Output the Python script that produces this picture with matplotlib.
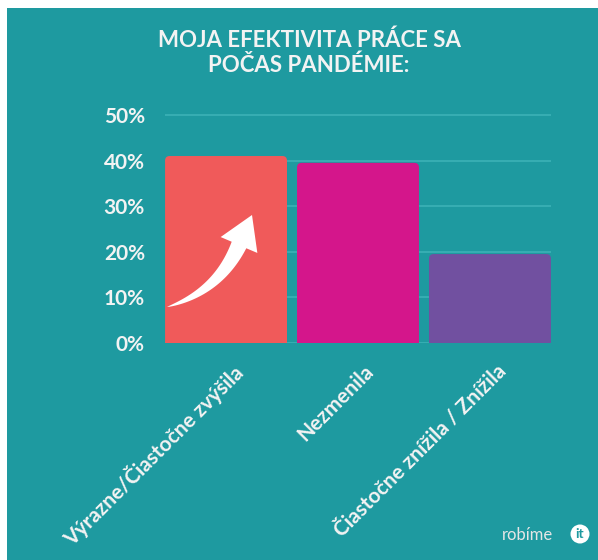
import numpy as np
import matplotlib
matplotlib.use("Agg")
import matplotlib.pyplot as plt
from matplotlib.patches import Rectangle, FancyBboxPatch, Polygon, Ellipse
from matplotlib.transforms import ScaledTranslation

# data
categories = ['Výrazne/Čiastočne zvýšila', 'Nezmenila', 'Čiastočne znížila / Znížila']
values = [41.0, 39.5, 19.5]
bar_colors = ['#F05A5A', '#D4168B', '#7150A0']
yticks = [0, 10, 20, 30, 40, 50]
ytick_labels = ['%d%%' % v for v in yticks]

teal = '#1E9AA0'
grid_col = '#3CB1B6'
txt_col = '#F3F3F3'
plt.rcParams['font.family'] = ['Lato', 'DejaVu Sans']

fig = plt.figure(figsize=(5.98, 5.60), dpi=100)
fig.patch.set_facecolor('white')
fig.patches.append(Rectangle((7/598, 0), 1 - 7/598, 552/560, transform=fig.transFigure,
                             facecolor=teal, edgecolor='none', zorder=-10))

ax = fig.add_axes([165/598, (560-343)/560, 386/598, (343-110.4)/560])
ax.set_facecolor('none')

x = np.arange(len(categories))
bars = ax.bar(x, values, width=0.924, color=bar_colors, zorder=3)
# swap plain bars for slightly rounded ones
for b, c in zip(bars, bar_colors):
    b.set_visible(False)
    rb = FancyBboxPatch((b.get_x(), -3), b.get_width(), b.get_height() + 3,
                        boxstyle='round,pad=0,rounding_size=0.035',
                        mutation_aspect=29, facecolor=c, edgecolor='none', zorder=3)
    ax.add_patch(rb)

ax.set_xlim(-0.4625, 2.4625)
ax.set_ylim(0, 51)
ax.set_yticks(yticks)
ax.set_yticklabels(ytick_labels)
ax.yaxis.grid(True, color=grid_col, lw=1.2)
ax.set_axisbelow(True)
for s in ax.spines.values():
    s.set_visible(False)
ax.tick_params(axis='y', length=0, pad=14.4, labelsize=15, labelcolor=txt_col)
for lab in ax.get_yticklabels():
    lab.set_fontweight('bold')

ax.set_xticks(x)
ax.set_xticklabels(categories, rotation=45, ha='right', va='top',
                   rotation_mode='anchor', fontsize=15, fontweight='bold', color=txt_col)
ax.tick_params(axis='x', length=0, pad=13)
off = ScaledTranslation(6/100, 0, fig.dpi_scale_trans)
for lab in ax.get_xticklabels():
    lab.set_transform(lab.get_transform() + off)

# white curved arrow on the first bar (pixel layout, top-left origin)
p0 = np.array([167.0, 307.0])
p1 = np.array([218.0, 292.0])
p2 = np.array([239.0, 245.0])
tip = np.array([252.0, 215.0])
u = np.linspace(0, 1, 40)[:, None]
cen = (1-u)**2*p0 + 2*(1-u)*u*p1 + u**2*p2
der = 2*(1-u)*(p1-p0) + 2*u*(p2-p1)
der = der / np.linalg.norm(der, axis=1)[:, None]
nrm = np.column_stack([der[:, 1], -der[:, 0]])
w = 8.0 * u[:, 0]**0.75
left = cen + nrm*w[:, None]
right = cen - nrm*w[:, None]
d_end = (tip - p2) / np.linalg.norm(tip - p2)
n_end = np.array([d_end[1], -d_end[0]])
head = [p2 + n_end*20, tip, p2 - n_end*20]
pts = np.vstack([left, head, right[::-1]])
pts_fig = np.column_stack([pts[:, 0]/598, 1 - pts[:, 1]/560])
fig.patches.append(Polygon(pts_fig, closed=True, transform=fig.transFigure,
                           facecolor='white', edgecolor='none', zorder=5))

fig.text(309/598, 1 - 53/560, 'MOJA EFEKTIVITA PRÁCE SA\nPOČAS PANDÉMIE:',
         ha='center', va='center', fontsize=16, fontweight='bold', color=txt_col,
         linespacing=1.2)

# logo
fig.text(553/598, 1 - 535/560, 'robíme', ha='right', va='center', fontsize=12,
         color='#E6E6E6')
fig.patches.append(Ellipse((580/598, 1 - 534/560), 19/598, 19/560,
                           transform=fig.transFigure, facecolor='white', edgecolor='none'))
fig.text(580/598, 1 - 534/560, 'it', ha='center', va='center', fontsize=10,
         fontweight='bold', color=teal)

plt.savefig('out.png', dpi=100)
